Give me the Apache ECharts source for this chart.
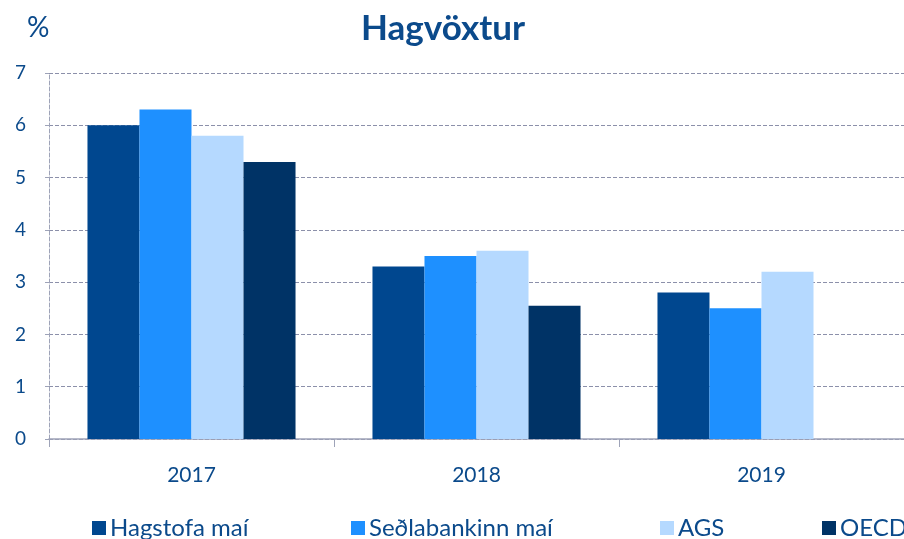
<!DOCTYPE html>
<html><head><meta charset="utf-8">
<script src="https://cdn.jsdelivr.net/npm/echarts@6/dist/echarts.min.js"></script>
<style>html,body{margin:0;padding:0;background:#fff}#c{width:904px;height:539px}</style>
</head><body><div id="c"></div>
<script>
var categories = ['2017', '2018', '2019'];
var seriesNames = ['Hagstofa maí', 'Seðlabankinn maí', 'AGS', 'OECD'];
var hagstofa = [6.0, 3.3, 2.8];
var sedlabankinn = [6.3, 3.5, 2.5];
var ags = [5.8, 3.6, 3.2];
var oecd = [5.3, 2.55, null];
var yTicks = [0, 1, 2, 3, 4, 5, 6, 7];
var colors = ['#00478f', '#1e90ff', '#b5d9ff', '#003366'];
var txt = '#0b4a8b';
var font = 'Lato, "Open Sans", sans-serif';
var values = [hagstofa, sedlabankinn, ags, oecd];
var legendLefts = [87, 346, 655, 817];

var chart = echarts.init(document.getElementById('c'));
chart.setOption({
  animation: false,
  textStyle: {fontFamily: font},
  title: [
    {text: 'Hagvöxtur', left: 438, top: 6, textAlign: 'center',
     textStyle: {fontSize: 35, fontWeight: 'bold', color: txt, fontFamily: font}},
    {text: '%', left: 22, top: 9, textStyle: {fontSize: 28, fontWeight: 'normal', color: txt, fontFamily: font}}
  ],
  legend: seriesNames.map(function (n, i) {
    return {data: [n], left: legendLefts[i], top: 511, itemWidth: 14, itemHeight: 14, itemGap: 0,
      icon: 'rect', textStyle: {fontSize: 24, color: txt, fontFamily: font, padding: [0, 0, 0, -1]}};
  }),
  grid: {left: 49, right: -6, top: 73, bottom: 100},
  xAxis: {
    type: 'category', data: categories,
    axisLine: {lineStyle: {color: '#9ea3b8', width: 1.5}},
    axisTick: {show: true, length: 8, lineStyle: {color: '#9ea3b8'}},
    axisLabel: {fontSize: 21, color: txt, margin: 26, fontFamily: font}
  },
  yAxis: {
    type: 'value', min: yTicks[0], max: yTicks[yTicks.length - 1], interval: 1,
    axisLine: {show: true, lineStyle: {color: '#9ea3b8', type: 'dashed'}},
    axisTick: {show: true, length: 6, lineStyle: {color: '#9ea3b8', type: 'dashed'}},
    splitLine: {lineStyle: {color: '#8c90aa', type: 'dashed'}},
    axisLabel: {fontSize: 19, color: txt, margin: 23, fontFamily: font}
  },
  series: seriesNames.map(function (n, i) {
    return {name: n, type: 'bar', data: values[i], barGap: '0%', barCategoryGap: '27%',
      itemStyle: {color: colors[i]}};
  })
});
</script></body></html>
